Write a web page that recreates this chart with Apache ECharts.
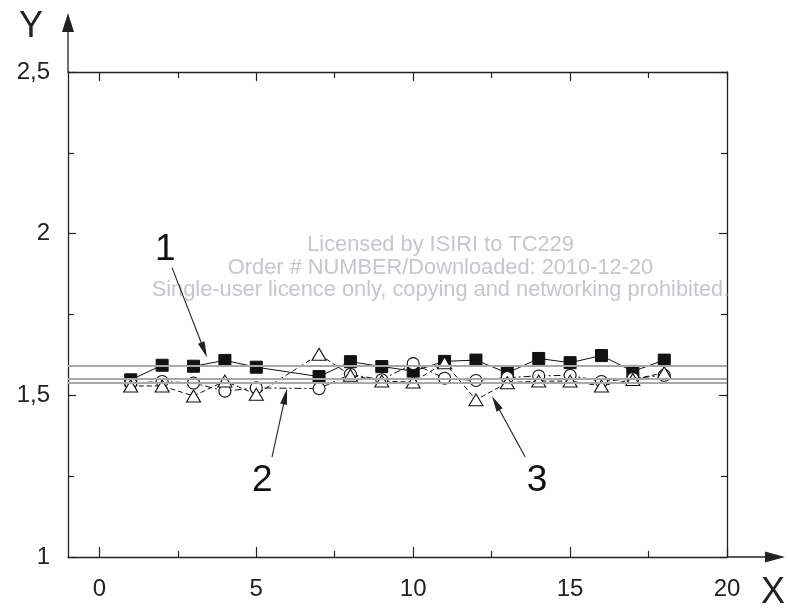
<!DOCTYPE html>
<html>
<head>
<meta charset="utf-8">
<script src="https://cdn.jsdelivr.net/npm/echarts@6/dist/echarts.min.js"></script>
<style>
  html, body { margin: 0; padding: 0; background: #fff; }
  #chart { width: 789px; height: 612px; }
</style>
</head>
<body>
<div id="chart"></div>
<script>
// Measurement positions (no reading at position 6)
const positions = [1, 2, 3, 4, 5, 7, 8, 9, 10, 11, 12, 13, 14, 15, 16, 17, 18];

// Curve 1 – filled squares
const curve1 = [1.548, 1.593, 1.590, 1.608, 1.587, 1.558, 1.604, 1.589, 1.575, 1.605, 1.609, 1.569, 1.614, 1.601, 1.623, 1.574, 1.609];
// Curve 2 – open circles
const curve2 = [1.537, 1.543, 1.538, 1.513, 1.523, 1.521, 1.565, 1.548, 1.598, 1.553, 1.546, 1.555, 1.560, 1.562, 1.543, 1.552, 1.562];
// Curve 3 – open triangles
const curve3 = [1.529, 1.529, 1.498, 1.544, 1.503, 1.627, 1.562, 1.544, 1.541, 1.601, 1.486, 1.539, 1.544, 1.544, 1.529, 1.549, 1.570];

// Horizontal mean levels
const meanLevels = [1.592, 1.548, 1.540];

// Axis ticks
const xMajorTicks = [0, 5, 10, 15, 20];
const xMinorTicks = [2.5, 7.5, 12.5, 17.5];
const yTickLabels = [1, 1.5, 2, 2.5];

// Callout labels with arrows, in data coordinates: [label, labelPos, arrowStart, arrowTip]
const callouts = [
  ['1', [2.10, 1.951], [2.315, 1.895], [3.43, 1.617]],
  ['2', [5.19, 1.235], [5.50, 1.309], [5.98, 1.521]],
  ['3', [13.95, 1.235], [13.57, 1.309], [12.51, 1.498]]
];

const watermark = [
  'Licensed by ISIRI to TC229',
  'Order # NUMBER/Downloaded: 2010-12-20',
  'Single-user licence only, copying and networking prohibited.'
];

const FONT = '"Liberation Sans", Arial, Helvetica, sans-serif';
const INK = '#222';

const pair = (xs, ys) => xs.map((x, i) => [x, ys[i]]);

const chart = echarts.init(document.getElementById('chart'), null, { renderer: 'canvas' });

function xAxisDef(pos, ticks, len, showLine, showLabel) {
  return {
    type: 'value', position: pos, min: -1, max: 20,
    splitLine: { show: false },
    axisLine: { show: showLine, onZero: false, lineStyle: { color: INK, width: 1.3 } },
    axisTick: { show: true, inside: true, length: len, customValues: ticks, lineStyle: { color: INK, width: 1.2 } },
    axisLabel: showLabel ? {
      show: true, customValues: xMajorTicks, margin: 20,
      fontFamily: FONT, fontSize: 24, color: INK
    } : { show: false }
  };
}

function yAxisDef(pos, showLabel) {
  return {
    type: 'value', position: pos, min: 1, max: 2.5, interval: 0.5,
    splitLine: { show: false },
    axisLine: { show: true, onZero: false, lineStyle: { color: INK, width: 1.3 } },
    axisTick: { show: true, inside: true, length: 8, lineStyle: { color: INK, width: 1.2 } },
    minorTick: { show: true, splitNumber: 2, length: 6, lineStyle: { color: INK, width: 1.2 } },
    axisLabel: showLabel ? {
      show: true, margin: 18, fontFamily: FONT, fontSize: 24, color: INK,
      formatter: v => String(v).replace('.', ',')
    } : { show: false }
  };
}

const openStyle = { color: '#fff', borderColor: '#111', borderWidth: 1.1 };

chart.setOption({
  animation: false,
  backgroundColor: '#fff',
  grid: { left: 68, right: 62, top: 72, bottom: 55, containLabel: false },
  xAxis: [
    xAxisDef('bottom', xMajorTicks, 10, true, true),
    xAxisDef('bottom', xMinorTicks, 6, false, false),
    xAxisDef('top', xMajorTicks, 9, true, false),
    xAxisDef('top', xMinorTicks, 6, false, false)
  ],
  yAxis: [yAxisDef('left', true), yAxisDef('right', false)],
  series: [
    {
      name: 'levels', type: 'line', data: [], silent: true,
      markLine: {
        silent: true, symbol: 'none', label: { show: false },
        lineStyle: { color: '#a8a8a8', width: 2, type: 'solid' },
        data: meanLevels.map(v => ({ yAxis: v }))
      }
    },
    {
      name: '1', type: 'line', data: pair(positions, curve1),
      symbol: 'rect', symbolSize: 12,
      lineStyle: { color: '#111', width: 1, type: 'solid' },
      itemStyle: { color: '#111', borderColor: '#111' }
    },
    {
      name: '2', type: 'line', data: pair(positions, curve2),
      symbol: 'circle', symbolSize: 12,
      lineStyle: { color: '#111', width: 1, type: [7, 3, 2, 3] },
      itemStyle: openStyle
    },
    {
      name: '3', type: 'line', data: pair(positions, curve3),
      symbol: 'triangle', symbolSize: [14, 12],
      lineStyle: { color: '#111', width: 1, type: [5, 3] },
      itemStyle: openStyle
    }
  ]
});

// Arrow helper: shaft from start to base of head, filled head at tip
function arrow(s, t, headLen, halfW, width) {
  const dx = t[0] - s[0], dy = t[1] - s[1];
  const L = Math.hypot(dx, dy);
  const ux = dx / L, uy = dy / L;
  const bx = t[0] - ux * headLen, by = t[1] - uy * headLen;
  const nx = -uy, ny = ux;
  return [
    { type: 'line', silent: true, z: 20,
      shape: { x1: s[0], y1: s[1], x2: bx + ux, y2: by + uy },
      style: { stroke: INK, lineWidth: width } },
    { type: 'polygon', silent: true, z: 20,
      shape: { points: [t, [bx + nx * halfW, by + ny * halfW], [bx - nx * halfW, by - ny * halfW]] },
      style: { fill: INK } }
  ];
}

const toPx = p => chart.convertToPixel({ xAxisIndex: 0, yAxisIndex: 0 }, p);
const origin = toPx([-1, 1]);
const corner = toPx([20, 2.5]);
const graphics = [];

// Axis extensions with arrowheads
graphics.push(...arrow([origin[0], corner[1]], [origin[0], 13], 19, 6, 1.3));
graphics.push(...arrow([corner[0], origin[1]], [785, origin[1]], 20, 5.5, 1.3));
graphics.push({ type: 'text', silent: true, z: 20,
  style: { text: 'Y', x: 31, y: 27, align: 'center', verticalAlign: 'middle', font: '36px ' + FONT, fill: INK } });
graphics.push({ type: 'text', silent: true, z: 20,
  style: { text: 'X', x: 773, y: 593, align: 'center', verticalAlign: 'middle', font: '36px ' + FONT, fill: INK } });

// Curve callouts
callouts.forEach(([txt, lp, s, t]) => {
  const p = toPx(lp);
  graphics.push({ type: 'text', silent: true, z: 20,
    style: { text: txt, x: p[0], y: p[1], align: 'center', verticalAlign: 'middle', font: '37px ' + FONT, fill: '#111' } });
  graphics.push(...arrow(toPx(s), toPx(t), 16, 3.5, 1.1));
});

// Licence notice across the plot
const wmCenterX = (origin[0] + corner[0]) / 2 + 43;
watermark.forEach((line, i) => {
  graphics.push({ type: 'text', silent: true, z: 5,
    style: { text: line, x: wmCenterX, y: 245 + i * 22.5, align: 'center', verticalAlign: 'middle',
      font: '21.8px ' + FONT, fill: '#c6c6cc' } });
});

chart.setOption({ graphic: graphics });
</script>
</body>
</html>
